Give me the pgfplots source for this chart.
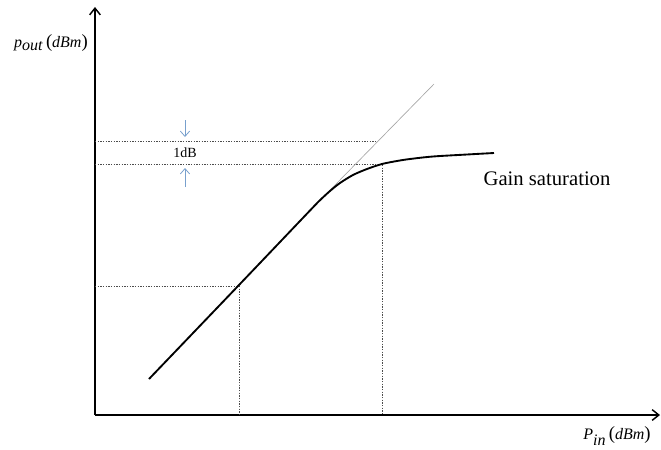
\documentclass[border=0pt]{standalone}
\usepackage{fontspec}
\setmainfont{Liberation Serif}
\usepackage{pgfplots}
\pgfplotsset{compat=1.18}
\usetikzlibrary{arrows.meta}
\definecolor{arrblue}{RGB}{120,160,205}
\begin{document}
\begin{tikzpicture}[x=1pt,y=1pt]
\begin{axis}[
  scale only axis,
  width=423.75pt, height=306pt,
  xmin=95, xmax=660, ymin=31, ymax=439,
  axis lines=left,
  axis line style={line width=1.1pt, -{Straight Barb[length=5pt,width=8pt]}},
  xtick=\empty, ytick=\empty,
  clip=false,
]
\path (axis cs:0,0) rectangle (axis cs:661,446);
% dotted guide lines
\addplot[gray!60!black, line width=0.5pt, dash pattern=on 1pt off 1pt] coordinates {(95,305) (377,305)};
\addplot[gray!60!black, line width=0.5pt, dash pattern=on 1pt off 1pt] coordinates {(95,282) (382,282) (382,31)};
\addplot[gray!60!black, line width=0.5pt, dash pattern=on 1pt off 1pt] coordinates {(95,160) (239,160) (239,31)};
% extrapolated linear gain
\addplot[gray!70, line width=0.5pt] coordinates {(320,245.6) (434,362)};
% main curve
\addplot[black, line width=1.4pt, smooth, tension=0.5] coordinates {
 (149,67) (239,161) (310,235.5) (320,245.8) (330,255) (340,263) (353,271) (367,277) (382,282) (397,285) (410,287) (433,289.5) (467,291.5) (494,293)};
% 1dB arrows
\addplot[arrblue, line width=0.6pt, -{Straight Barb[length=4pt,width=7pt]}] coordinates {(185,326) (185,309)};
\addplot[arrblue, line width=0.6pt, -{Straight Barb[length=4pt,width=7pt]}] coordinates {(185,259) (185,278)};
\node[font=\fontsize{10.5}{12}\selectfont] at (axis cs:185,293.5) {1dB};
\node[font=\fontsize{15.5}{18}\selectfont] at (axis cs:547,267) {Gain saturation};
\node[font=\fontsize{12}{14}\selectfont] at (axis cs:51,403) {\textit{p}$_{\textit{out}}$\,{\fontsize{14}{14}\selectfont(}\textit{dBm}{\fontsize{14}{14}\selectfont)}};
\node[font=\fontsize{12}{14}\selectfont] at (axis cs:617,10) {\textit{P}$_{\textit{in}}$\,{\fontsize{14}{14}\selectfont(}\textit{dBm}{\fontsize{14}{14}\selectfont)}};
\end{axis}
\end{tikzpicture}
\end{document}
